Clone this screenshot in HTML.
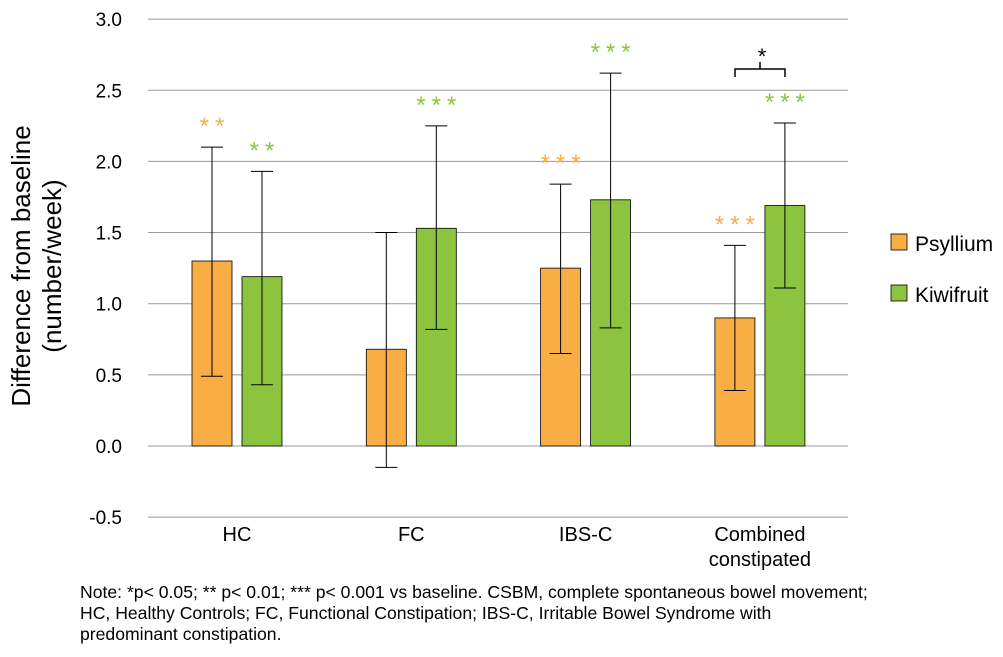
<!DOCTYPE html>
<html><head><meta charset="utf-8"><style>
body{margin:0;background:#fff;}
svg{font-family:"Liberation Sans",Arial,sans-serif;}
</style></head><body>
<svg id="chart" width="1003" height="652" viewBox="0 0 1003 652">
<g id="grid"></g>
<g id="yticks"></g>
<g id="bars"></g>
<g id="xlabels"></g>
<text transform="translate(30,266) rotate(-90)" text-anchor="middle" font-size="26" fill="#000">Difference from baseline</text>
<text transform="translate(61,266) rotate(-90)" text-anchor="middle" font-size="26" fill="#000">(number/week)</text>
<g stroke="#000" stroke-width="1.5" fill="none">
<path d="M735,77 V69 H785 V77 M760,69 V62"/>
</g>
<text x="762" y="64" text-anchor="middle" font-size="22" fill="#000">*</text>
<g>
<rect x="891" y="234" width="16" height="16" fill="#F9AD45" stroke="#000" stroke-width="0.8"/>
<text x="915" y="251" font-size="21">Psyllium</text>
<rect x="891" y="285" width="16" height="16" fill="#8CC43F" stroke="#000" stroke-width="0.8"/>
<text x="915" y="302" font-size="21">Kiwifruit</text>
</g>
<g font-size="17.6" fill="#000">
<text x="80" y="598">Note: *p&lt; 0.05; ** p&lt; 0.01; *** p&lt; 0.001 vs baseline. CSBM, complete spontaneous bowel movement;</text>
<text x="80" y="619">HC, Healthy Controls; FC, Functional Constipation; IBS-C, Irritable Bowel Syndrome with</text>
<text x="80" y="640">predominant constipation.</text>
</g>
</svg>
<script>
const categories=["HC","FC","IBS-C","Combined|constipated"];
const psyllium=[1.30,0.68,1.25,0.90];
const psylliumLow=[0.49,-0.15,0.65,0.39];
const psylliumHigh=[2.10,1.50,1.84,1.41];
const kiwi=[1.19,1.53,1.73,1.69];
const kiwiLow=[0.43,0.82,0.83,1.11];
const kiwiHigh=[1.93,2.25,2.62,2.27];
const psylliumStars=["**","","***","***"];
const kiwiStars=["**","***","***","***"];
const yTicks=[3.0,2.5,2.0,1.5,1.0,0.5,0.0,-0.5];
const NS="http://www.w3.org/2000/svg";
const y0=446,ppu=142.3;
function y(v){return y0-v*ppu;}
function cx(i){return 237+i*174.3;}
function mk(tag,attrs,parent,txt){const e=document.createElementNS(NS,tag);for(const k in attrs)e.setAttribute(k,attrs[k]);if(txt!==undefined)e.textContent=txt;parent.appendChild(e);return e;}
const grid=document.getElementById('grid'),yt=document.getElementById('yticks'),bars=document.getElementById('bars'),xl=document.getElementById('xlabels');
yTicks.forEach(t=>{
 const l=mk('line',{x1:148,x2:848,y1:y(t),y2:y(t),stroke:'#999','stroke-width':1},grid);
 
 
 const tx=mk('text',{x:122,y:y(t)+7,'text-anchor':'end','font-size':19},yt,t.toFixed(1));
 
 
});
function bar(xc,v,lo,hi,col,stars,scol,name){
 const r=mk('rect',{x:xc-20,y:Math.min(y(v),y0),width:40,height:Math.abs(y(v)-y0),fill:col,stroke:'#000','stroke-width':0.8},bars);
 
 
 const g=mk('path',{d:`M${xc},${y(lo)}V${y(hi)}M${xc-11},${y(lo)}H${xc+11}M${xc-11},${y(hi)}H${xc+11}`,stroke:'#000','stroke-width':1,fill:'none'},bars);
 
 
 if(stars){const s=mk('text',{x:xc+3,y:y(hi)-13,'text-anchor':'middle','font-size':24,fill:scol,'letter-spacing':'6'},bars,stars);
 
 }
}
categories.forEach((c,i)=>{
 bar(cx(i)-25,psyllium[i],psylliumLow[i],psylliumHigh[i],'#F9AD45',psylliumStars[i],'#F9AD45','bar-psyllium-'+i);
 bar(cx(i)+25,kiwi[i],kiwiLow[i],kiwiHigh[i],'#8CC43F',kiwiStars[i],'#8CC43F','bar-kiwifruit-'+i);
 c.split('|').forEach((ln,j)=>{
  const t=mk('text',{x:cx(i),y:541+j*25,'text-anchor':'middle','font-size':20},xl,ln);
  
  
 });
});
</script>
</body></html>
